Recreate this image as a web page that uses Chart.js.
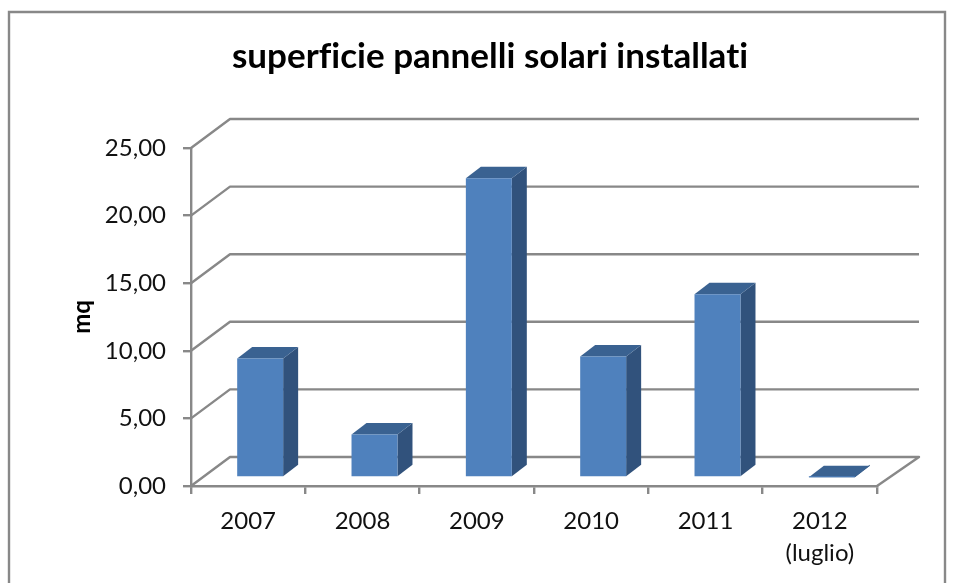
<!DOCTYPE html>
<html><head><meta charset="utf-8">
<style>html,body{margin:0;padding:0;background:#fff}#w{width:955px;height:583px;position:relative;overflow:hidden}canvas{display:block;filter:blur(0.45px)}</style>
<script src="https://cdn.jsdelivr.net/npm/chart.js@4/dist/chart.umd.min.js"></script>
</head><body><div id="w"><canvas id="c" width="955" height="583"></canvas></div>
<script>
const categories = ["2007","2008","2009","2010","2011",["2012","(luglio)"]];
const superficie = [8.8,3.18,22.14,8.95,13.55,0.02];
const yTickValues = [0,5,10,15,20,25];
const yTickLabels = ["0,00","5,00","10,00","15,00","20,00","25,00"];
const titleText = "superficie pannelli solari installati";
const yTitleText = "mq";
const GRID = "#888888", FRONT = "#4F81BD", SIDE = "#31527C", TOP = "#3A6291";
const WALL = {dx:39, dy:-29}, BAR = {ox:12, oy:-8.5, dx:15, dy:-11.5};

const scene = {
  id:"scene",
  beforeDraw(ch){
    const c = ch.ctx;
    c.letterSpacing = "0.01px";
    c.save(); c.fillStyle="#fff"; c.fillRect(0,0,ch.width,ch.height);
    c.strokeStyle=GRID; c.lineWidth=2.4; c.beginPath();
    c.moveTo(9,600); c.lineTo(9,12); c.lineTo(945,12); c.lineTo(945,600); c.stroke(); c.restore();
  },
  beforeDatasetsDraw(ch){
    const c = ch.ctx, y = ch.scales.y, a = ch.chartArea;
    c.save(); c.strokeStyle=GRID; c.lineWidth=2.4; c.lineJoin="round";
    yTickValues.forEach(v=>{
      const p = y.getPixelForValue(v);
      c.beginPath(); c.moveTo(a.left,p); c.lineTo(a.left+WALL.dx,p+WALL.dy);
      c.lineTo(a.right+WALL.dx+3,p+WALL.dy);
      if(v===0) c.lineTo(a.right,p);
      c.stroke();
    });
    c.restore();
    c.save(); c.translate(BAR.ox,BAR.oy);
    ch.getDatasetMeta(0).data.forEach(b=>{
      const l=b.x-b.width/2, r=b.x+b.width/2, t=b.y, g=b.base;
      c.fillStyle=SIDE; c.beginPath(); c.moveTo(r,t); c.lineTo(r+BAR.dx,t+BAR.dy); c.lineTo(r+BAR.dx,g+BAR.dy); c.lineTo(r,g); c.closePath(); c.fill();
      c.fillStyle=TOP; c.beginPath(); c.moveTo(l,t); c.lineTo(l+BAR.dx,t+BAR.dy); c.lineTo(r+BAR.dx,t+BAR.dy); c.lineTo(r,t); c.closePath(); c.fill();
    });
  },
  afterDatasetsDraw(ch){ ch.ctx.restore(); }
};

new Chart(document.getElementById("c"),{
  type:"bar",
  plugins:[scene],
  data:{labels:categories,datasets:[{data:superficie,backgroundColor:FRONT,borderWidth:0,categoryPercentage:1,barPercentage:0.402,clip:false}]},
  options:{
    responsive:false,animation:false,
    layout:{padding:{left:25,right:0,top:0,bottom:0}},
    plugins:{
      legend:{display:false},tooltip:{enabled:false},
      title:{display:true,text:titleText,color:"#000",font:{family:"Lato",size:35,weight:"bold",lineHeight:1.2},padding:{top:36,bottom:70}}
    },
    scales:{
      x:{
        grid:{drawOnChartArea:false,color:GRID,tickColor:GRID,tickLength:8,lineWidth:2.4},
        border:{display:true,color:GRID,width:2.4},
        ticks:{color:"#111",font:{family:"Lato",size:24,lineHeight:1.33},padding:11,maxRotation:0,autoSkip:false},
        afterFit(s){s.height=97;}
      },
      y:{
        min:0,max:25,
        grid:{drawOnChartArea:false,color:GRID,tickColor:GRID,tickLength:8,lineWidth:2.4},
        border:{display:true,color:GRID,width:2.4},
        ticks:{stepSize:5,color:"#111",font:{family:"Lato",size:24},padding:17,callback:(v)=>yTickLabels[yTickValues.indexOf(v)]},
        title:{display:true,text:yTitleText,color:"#000",font:{family:"Lato",size:24,weight:"bold"},padding:{top:43,bottom:0}},
        afterFit(s){s.width=166;}
      },
      spacer:{type:"linear",position:"right",display:true,grid:{display:false},border:{display:false},ticks:{display:false},afterFit(s){s.width=78;}}
    }
  }
});
</script></body></html>
